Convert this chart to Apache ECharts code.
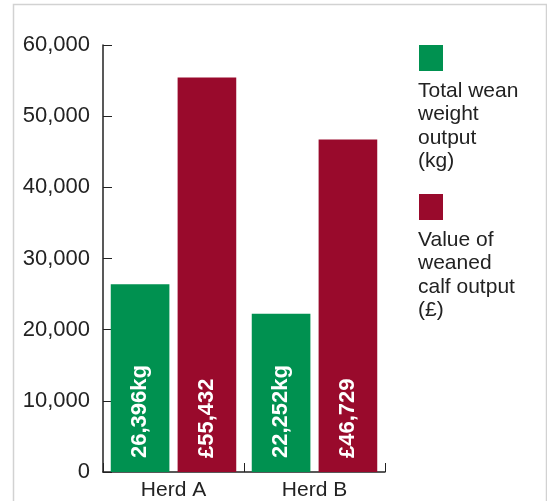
<!DOCTYPE html>
<html>
<head>
<meta charset="utf-8">
<script src="https://cdn.jsdelivr.net/npm/echarts@6/dist/echarts.min.js"></script>
<style>
html,body{margin:0;padding:0;background:#fff;}
#c{width:547px;height:501px;}
</style>
</head>
<body>
<div id="c"></div>
<script>
const categories = ['Herd A', 'Herd B'];
const seriesNames = ['Total wean weight output (kg)', 'Value of weaned calf output (£)'];
const legendLines = [['Total wean', 'weight', 'output', '(kg)'], ['Value of', 'weaned', 'calf output', '(£)']];
const weanWeightKg = [26396, 22252];
const calfValueGBP = [55432, 46729];
const seriesColors = ['#009150', '#990a2c'];
const yMin = 0, yMax = 60000, yStep = 10000;

const FONT = 'Liberation Sans, Arial, sans-serif';
const fmt = v => v.toLocaleString('en-GB');

const chart = echarts.init(document.getElementById('c'), null, {renderer: 'canvas'});

const labelBase = {
  show: true,
  rotate: 90,
  position: 'insideBottom',
  align: 'left',
  verticalAlign: 'middle',
  distance: 14,
  color: '#fff',
  fontFamily: FONT,
  fontWeight: 'bold',
  fontSize: 22
};

const legendGraphics = [];
const legendTops = [45, 194];
seriesNames.forEach((n, i) => {
  legendGraphics.push({
    type: 'rect', left: 419, top: legendTops[i],
    shape: {width: 24, height: 26},
    style: {fill: seriesColors[i]}
  });
  legendGraphics.push({
    type: 'text', left: 418, top: legendTops[i] + 34,
    style: {
      text: legendLines[i].join('\n'),
      font: '21px ' + FONT,
      lineHeight: 23.5,
      fill: '#222'
    }
  });
});

chart.setOption({
  animation: false,
  backgroundColor: '#fff',
  grid: {left: 103, top: 45, width: 282, bottom: 29, containLabel: false},
  xAxis: {
    type: 'category',
    data: categories,
    axisLine: {lineStyle: {color: '#222', width: 1.5}},
    axisTick: {show: true, inside: true, length: 9, lineStyle: {color: '#222'}},
    axisLabel: {color: '#222', fontFamily: FONT, fontSize: 21, margin: 8}
  },
  yAxis: {
    type: 'value',
    min: yMin, max: yMax, interval: yStep,
    splitLine: {show: false},
    axisLine: {show: true, lineStyle: {color: '#222', width: 1.5}},
    axisTick: {show: true, inside: true, length: 9, lineStyle: {color: '#222'}},
    axisLabel: {color: '#222', fontFamily: FONT, fontSize: 22, margin: 13, formatter: v => fmt(v)}
  },
  series: [
    {
      name: seriesNames[0], type: 'bar', data: weanWeightKg,
      itemStyle: {color: seriesColors[0]},
      barGap: '14%', barCategoryGap: '11%',
      label: Object.assign({}, labelBase, {formatter: p => fmt(p.value) + 'kg'})
    },
    {
      name: seriesNames[1], type: 'bar', data: calfValueGBP,
      itemStyle: {color: seriesColors[1]},
      barGap: '14%', barCategoryGap: '11%',
      label: Object.assign({}, labelBase, {formatter: p => '£' + fmt(p.value)})
    }
  ],
  graphic: [
    {type: 'rect', left: 11, top: 2, shape: {width: 533, height: 520},
     style: {fill: 'none', stroke: '#d2d2d2', lineWidth: 1.5}, silent: true},
    ...legendGraphics
  ]
});
</script>
</body>
</html>
